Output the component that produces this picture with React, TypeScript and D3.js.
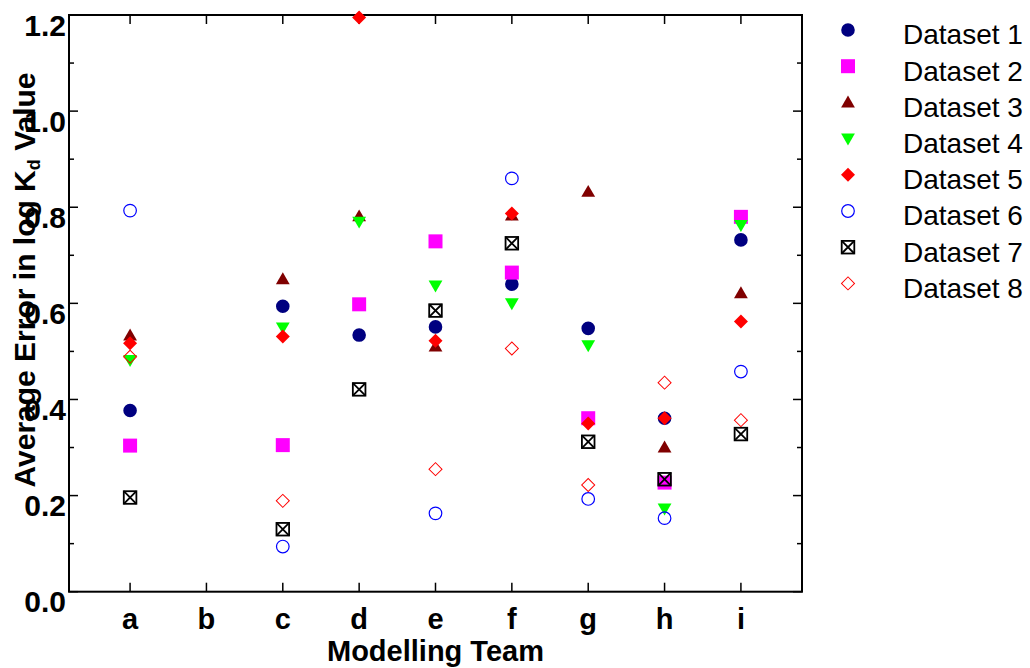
import React from "react";
import * as d3 from "d3";

const teams = ["a", "b", "c", "d", "e", "f", "g", "h", "i"];
const yTicksMajor = [0, 0.2, 0.4, 0.6, 0.8, 1.0, 1.2];
const yTickLabels = ["0.0", "0.2", "0.4", "0.6", "0.8", "1.0", "1.2"];
const yTicksMinor = [0.1, 0.3, 0.5, 0.7, 0.9, 1.1];

const dataset1 = [0.377, null, 0.594, 0.534, 0.551, 0.64, 0.548, 0.361, 0.732];
const dataset2 = [0.304, null, 0.305, 0.598, 0.729, 0.664, 0.361, 0.227, 0.78];
const dataset3 = [0.533, null, 0.65, 0.781, 0.51, 0.783, 0.832, 0.3, 0.621];
const dataset4 = [0.482, null, 0.55, 0.77, 0.637, 0.6, 0.513, 0.173, 0.763];
const dataset5 = [0.517, null, 0.531, 1.195, 0.522, 0.787, 0.35, 0.361, 0.562];
const dataset6 = [0.793, null, 0.094, null, 0.163, 0.86, 0.193, 0.153, 0.458];
const dataset7 = [0.196, null, 0.13, 0.421, 0.585, 0.725, 0.312, 0.234, 0.328];
const dataset8 = [0.489, null, 0.189, null, 0.255, 0.506, 0.222, 0.435, 0.357];

const seriesNames = ["Dataset 1", "Dataset 2", "Dataset 3", "Dataset 4", "Dataset 5", "Dataset 6", "Dataset 7", "Dataset 8"];
const seriesValues = [dataset1, dataset2, dataset3, dataset4, dataset5, dataset6, dataset7, dataset8];

const W = 1030;
const H = 668;
const left = 69;
const right = 802;
const top = 15;
const bottom = 591.7;

const x = d3.scaleLinear().domain([0.2, 9.8]).range([left, right]);
const y = d3.scaleLinear().domain([0, 1.2]).range([bottom, top]);

const circlePath = d3.symbol().type(d3.symbolCircle).size(Math.PI * 6.8 * 6.8)() as string;
const squarePath = d3.symbol().type(d3.symbolSquare).size(14 * 14)() as string;
const triPath = d3.symbol().type(d3.symbolTriangle).size(13.8 * 13.8 * Math.sqrt(3) / 4)() as string;
const diamondPath = d3.symbol().type(d3.symbolSquare).size(9.9 * 9.9)() as string;
const openDiamondPath = d3.symbol().type(d3.symbolSquare).size(9.2 * 9.2)() as string;

function Marker({ idx, cx, cy }: { idx: number; cx: number; cy: number }) {
  const t = `translate(${cx},${cy})`;
  switch (idx) {
    case 0:
      return <path d={circlePath} transform={t} fill="#000080" />;
    case 1:
      return <path d={squarePath} transform={t} fill="#ff00ff" />;
    case 2:
      return <path d={triPath} transform={`${t} translate(0,1)`} fill="#800000" />;
    case 3:
      return <path d={triPath} transform={`${t} rotate(180) translate(0,1)`} fill="#00ff00" />;
    case 4:
      return <path d={diamondPath} transform={`${t} rotate(45)`} fill="#ff0000" />;
    case 5:
      return <circle cx={cx} cy={cy} r={6.3} fill="none" stroke="#0000ff" strokeWidth={1.2} />;
    case 6:
      return (
        <g transform={t} fill="none" stroke="#000" strokeWidth={1.8}>
          <rect x={-6.3} y={-6.3} width={12.6} height={12.6} />
          <line x1={-6.3} y1={-6.3} x2={6.3} y2={6.3} />
          <line x1={-6.3} y1={6.3} x2={6.3} y2={-6.3} />
        </g>
      );
    default:
      return <path d={openDiamondPath} transform={`${t} rotate(45)`} fill="none" stroke="#ff0000" strokeWidth={1} />;
  }
}

export default function App() {
  const font = "'Liberation Sans', Arial, Helvetica, sans-serif";
  return (
    <svg width={W} height={H} style={{ position: "absolute", left: 0, top: 0, background: "#fff" }} fontFamily={font}>
      <rect x={0} y={0} width={W} height={H} fill="#fff" />
      {/* ticks */}
      <g stroke="#000" strokeWidth={1.5}>
        {teams.map((t, i) => (
          <g key={t}>
            <line x1={x(i + 1)} x2={x(i + 1)} y1={bottom} y2={bottom - 9} />
            <line x1={x(i + 1)} x2={x(i + 1)} y1={top} y2={top + 9} />
          </g>
        ))}
        {yTicksMajor.map((v) => (
          <g key={"M" + v}>
            <line x1={left} x2={left + 9} y1={y(v)} y2={y(v)} />
            <line x1={right} x2={right - 9} y1={y(v)} y2={y(v)} />
          </g>
        ))}
        {yTicksMinor.map((v) => (
          <g key={"m" + v}>
            <line x1={left} x2={left + 5} y1={y(v)} y2={y(v)} />
            <line x1={right} x2={right - 5} y1={y(v)} y2={y(v)} />
          </g>
        ))}
      </g>
      <rect x={left} y={top} width={right - left} height={bottom - top} fill="none" stroke="#000" strokeWidth={2} />
      {/* y tick labels */}
      {yTicksMajor.map((v, i) => (
        <text key={"yl" + v} x={66} y={y(v) + 20.5} textAnchor="end" fontSize={30} fontWeight="bold">
          {yTickLabels[i]}
        </text>
      ))}
      {/* x tick labels */}
      {teams.map((t, i) => (
        <text key={"xl" + t} x={x(i + 1)} y={629} textAnchor="middle" fontSize={29} fontWeight="bold">
          {t}
        </text>
      ))}
      <text x={(left + right) / 2} y={661} textAnchor="middle" fontSize={29} fontWeight="bold">
        Modelling Team
      </text>
      <text transform={`translate(35,280) rotate(-90)`} textAnchor="middle" fontSize={30} fontWeight="bold">
        Average Error in log K<tspan fontSize={18} dy={5}>d</tspan>
        <tspan dy={-5}> Value</tspan>
      </text>
      {/* data */}
      {seriesValues.map((vals, si) => (
        <g key={"s" + si}>
          {vals.map((v, ti) =>
            v == null ? null : <Marker key={ti} idx={si} cx={x(ti + 1)} cy={y(v)} />
          )}
        </g>
      ))}
      {/* legend */}
      {seriesNames.map((n, i) => (
        <g key={"lg" + i}>
          <Marker idx={i} cx={848} cy={30 + i * 36.2} />
          <text x={903} y={44.3 + i * 36.2} fontSize={28}>
            {n}
          </text>
        </g>
      ))}
    </svg>
  );
}
